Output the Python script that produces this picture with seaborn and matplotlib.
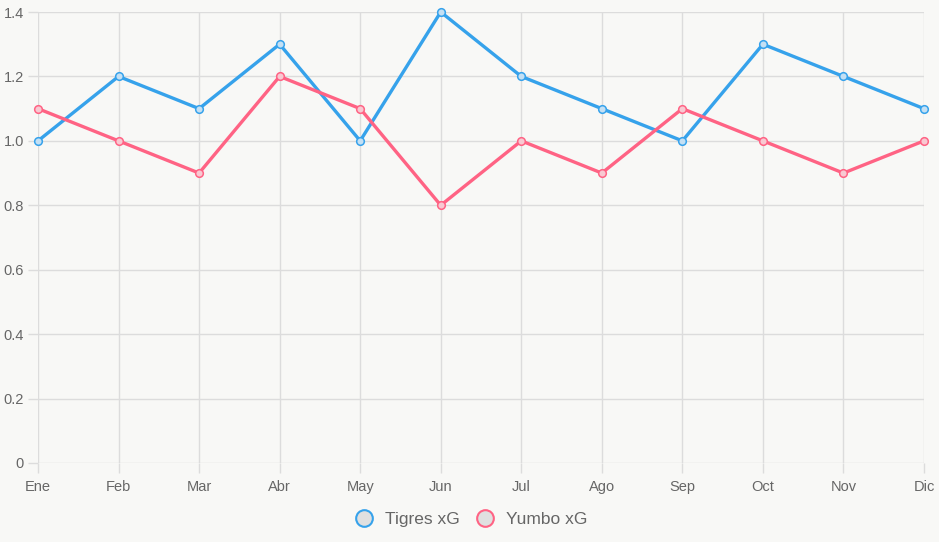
import seaborn as sns
import pandas as pd
import numpy as np
import matplotlib.pyplot as plt
from matplotlib.lines import Line2D
from matplotlib.ticker import FuncFormatter

# datos
meses = ["Ene", "Feb", "Mar", "Abr", "May", "Jun", "Jul", "Ago", "Sep", "Oct", "Nov", "Dic"]
tigres = [1.0, 1.2, 1.1, 1.3, 1.0, 1.4, 1.2, 1.1, 1.0, 1.3, 1.2, 1.1]
yumbo = [1.1, 1.0, 0.9, 1.2, 1.1, 0.8, 1.0, 0.9, 1.1, 1.0, 0.9, 1.0]
series = ["Tigres xG", "Yumbo xG"]

azul = "#36A2EB"
rosa = "#FF6384"
gris_grid = "#dcdcdc"
fondo = "#f8f8f6"

df = pd.DataFrame({
    "mes": meses * 2,
    "xG": tigres + yumbo,
    "equipo": [series[0]] * len(meses) + [series[1]] * len(meses),
})
df["pos"] = list(range(len(meses))) * 2

sns.set_theme(style="white")
plt.rcParams["font.family"] = ["Liberation Sans", "DejaVu Sans"]

fig = plt.figure(figsize=(9.39, 5.42), dpi=100, facecolor=fondo)
ax = fig.add_axes([38 / 939, 79 / 542, 886 / 939, 451 / 542])
ax.set_facecolor(fondo)

colores = {series[0]: azul, series[1]: rosa}
relleno = {series[0]: "#c4e0f4", series[1]: "#f8c9d2"}
for eq in series:
    sub = df[df["equipo"] == eq]
    sns.lineplot(data=sub, x="pos", y="xG", ax=ax, color=colores[eq], linewidth=2.4,
                 marker="o", markersize=5.5, markerfacecolor=relleno[eq],
                 markeredgecolor=colores[eq], markeredgewidth=1.1, legend=False,
                 clip_on=False, zorder=3)

ax.set_xlim(0, len(meses) - 1)
ax.set_ylim(0, 1.4)
ax.set_xticks(range(len(meses)))
ax.set_xticklabels(meses)
ax.set_yticks(np.arange(0, 1.41, 0.2))
ax.yaxis.set_major_formatter(FuncFormatter(lambda v, p: "0" if abs(v) < 1e-9 else f"{v:.1f}"))
ax.set_xlabel("")
ax.set_ylabel("")

ax.grid(True, color=gris_grid, linewidth=1)
for s in ax.spines.values():
    s.set_visible(False)
ax.tick_params(axis="both", length=7, width=1, color=gris_grid, labelcolor="#666666",
               labelsize=10.5, pad=3, left=True, bottom=True)
ax.tick_params(axis="x", pad=5)

handles = [Line2D([], [], linestyle="none", marker="o", markersize=12,
                  markerfacecolor="#e0e0e0", markeredgecolor=colores[eq],
                  markeredgewidth=1.5, label=eq) for eq in series]
leg = fig.legend(handles=handles, loc="center", bbox_to_anchor=(467 / 939, 1 - 519 / 542),
                 ncol=2, frameon=False, fontsize=12.5, handletextpad=0.25, columnspacing=0.4)
for t in leg.get_texts():
    t.set_color("#666666")

fig.savefig("out.png", dpi=100, facecolor=fondo)
